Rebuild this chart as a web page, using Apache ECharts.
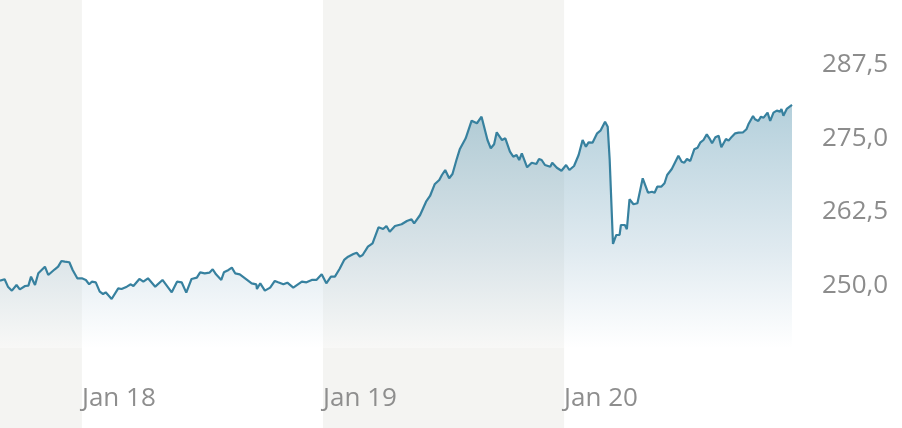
<!DOCTYPE html>
<html><head><meta charset="utf-8">
<script src="https://cdn.jsdelivr.net/npm/echarts@6/dist/echarts.min.js"></script>
<style>html,body{margin:0;padding:0;background:#fff}#c{width:902px;height:428px}</style>
</head><body><div id="c"></div>
<script>
// Time stamps: days counted from 2018-01-01
const baseDate = '2018-01-01';
const daysSinceBase = [
  -124,-117,-112,-106,-99,-94,-86,-81,-77,-71,
  -66,-56,-51,-41,-36,-31,-26,-19,-14,-7,
  0,6,11,15,21,27,32,36,45,55,
  60,68,74,78,87,93,100,111,122,136,
  144,151,158,166,174,179,186,193,198,203,
  206,211,215,222,227,232,239,247,257,264,
  265,270,277,285,292,297,305,311,320,333,
  340,348,355,363,370,377,383,390,397,403,
  411,416,421,425,433,440,449,456,461,466,
  474,484,492,499,503,512,521,527,534,541,
  545,550,556,561,567,572,581,590,598,605,
  608,614,619,624,628,636,641,648,653,658,
  662,666,674,681,688,692,696,701,709,712,
  719,726,733,738,745,752,758,763,767,773,
  780,785,792,796,799,804,809,814,816,822,
  825,829,835,841,849,857,863,867,871,877,
  882,886,893,903,908,912,916,921,927,932,
  936,941,946,950,954,959,964,968,971,975,
  979,984,989,994,1001,1006,1009,1016,1019,1024,
  1028,1032,1038,1042,1047,1052,1057,1059,1062,1067,
  1075
];
const prices = [
  250.82,251.05,249.80,249.12,250.09,249.35,249.91,249.97,251.50,250.09,
  252.07,253.20,251.79,252.76,253.20,254.17,254.05,253.95,252.64,251.22,
  251.22,250.94,250.20,250.65,250.54,248.95,248.55,248.84,247.70,249.52,
  249.40,249.80,250.20,249.91,251.11,250.65,251.22,249.80,250.94,248.84,
  250.65,250.54,248.78,251.11,251.33,252.24,252.07,252.18,252.76,251.90,
  251.90,250.94,252.24,252.64,253.03,252.07,251.90,251.22,250.37,250.20,
  249.40,250.37,249.12,249.63,250.77,250.54,250.20,250.48,249.63,250.65,
  250.54,250.94,250.94,251.90,250.37,251.50,251.50,252.81,254.34,254.90,
  255.36,255.58,254.90,255.19,256.60,257.18,259.90,259.61,260.12,259.15,
  260.12,260.41,260.97,261.26,260.58,261.99,264.25,265.22,267.21,267.94,
  268.79,269.64,268.23,268.96,271.34,273.16,275.03,278.03,277.59,278.71,
  278.44,274.74,273.33,274.01,276.05,274.74,275.03,272.76,271.90,272.19,
  271.34,272.48,270.10,270.88,270.66,271.51,271.34,270.49,270.20,270.88,
  270.03,269.52,270.49,269.64,270.32,272.19,274.74,273.61,274.35,274.29,
  275.88,276.33,277.86,277.01,271.34,257.06,258.59,258.59,260.29,260.29,
  259.56,264.66,263.81,263.98,268.23,265.78,265.95,265.78,266.80,266.80,
  267.38,268.79,269.81,272.07,271.05,270.88,271.51,271.17,273.16,273.44,
  274.29,274.74,275.71,275.03,274.18,275.20,275.48,273.50,273.72,274.91,
  274.63,275.31,275.88,275.99,276.05,276.56,277.41,278.83,278.27,277.98,
  278.71,278.54,279.39,277.98,279.39,279.73,279.56,280.02,278.88,280.02,
  280.70
];
const tickDates = ['2018-01-01','2019-01-01','2020-01-01'];
const tickLabels = ['Jan 18','Jan 19','Jan 20'];
const yTickValues = [250, 262.5, 275, 287.5];
const shadedBands = [['start','2018-01-01'],['2019-01-01','2020-01-01']];

const DAY = 86400000;
const baseMs = Date.parse(baseDate);
const seriesData = daysSinceBase.map((d, i) => [baseMs + d * DAY, prices[i]]);
const tMin = seriesData[0][0];
const tMax = seriesData[seriesData.length - 1][0];
const tickTs = tickDates.map(s => Date.parse(s));
const bandData = shadedBands.map(([a, b]) => [
  {xAxis: a === 'start' ? tMin : Date.parse(a)},
  {xAxis: Date.parse(b)}
]);

const chart = echarts.init(document.getElementById('c'), null, {renderer: 'canvas'});
chart.setOption({
  animation: false,
  backgroundColor: '#ffffff',
  grid: [
    {left: 0, right: 110, top: 0, bottom: 0},
    {left: 0, right: 110, top: 0, bottom: 80}
  ],
  xAxis: [
    {type: 'value', gridIndex: 0, min: tMin, max: tMax, show: false},
    {type: 'value', gridIndex: 1, min: tMin, max: tMax, z: 10,
     axisLine: {show: false}, axisTick: {show: false}, splitLine: {show: false},
     axisLabel: {
       customValues: tickTs,
       hideOverlap: false,
       align: 'left',
       margin: 38,
       color: '#8e8e8e',
       fontFamily: 'Open Sans',
       fontSize: 26,
       formatter: function (v) {
         for (let i = 0; i < tickTs.length; i++) {
           if (Math.abs(tickTs[i] - v) < DAY) return tickLabels[i];
         }
         return '';
       }
     }
    }
  ],
  yAxis: [
    {type: 'value', gridIndex: 0, min: 0, max: 1, show: false},
    {type: 'value', gridIndex: 1, position: 'right', min: 239.37, max: 298.55, z: 10,
     axisLine: {show: false}, axisTick: {show: false}, splitLine: {show: false},
     axisLabel: {
       customValues: yTickValues,
       margin: 30,
       color: '#8c8c8c',
       fontFamily: 'Open Sans',
       fontSize: 26,
       formatter: v => v.toFixed(1).replace('.', ',')
     }
    }
  ],
  series: [
    {type: 'line', xAxisIndex: 0, yAxisIndex: 0, data: [], silent: true, z: 1,
     markArea: {silent: true, itemStyle: {color: '#f4f4f2'}, data: bandData}},
    {type: 'line', xAxisIndex: 1, yAxisIndex: 1, data: seriesData, z: 2,
     showSymbol: false, symbol: 'none',
     lineStyle: {color: '#37819f', width: 2.2},
     areaStyle: {
       origin: 'start',
       color: new echarts.graphic.LinearGradient(0, 0, 0, 1, [
         {offset: 0, color: 'rgba(60,132,162,0.55)'},
         {offset: 0.6, color: 'rgba(170,198,214,0.52)'},
         {offset: 1, color: 'rgba(255,255,255,0.5)'}
       ])
     }
    }
  ]
});
</script>
</body></html>
